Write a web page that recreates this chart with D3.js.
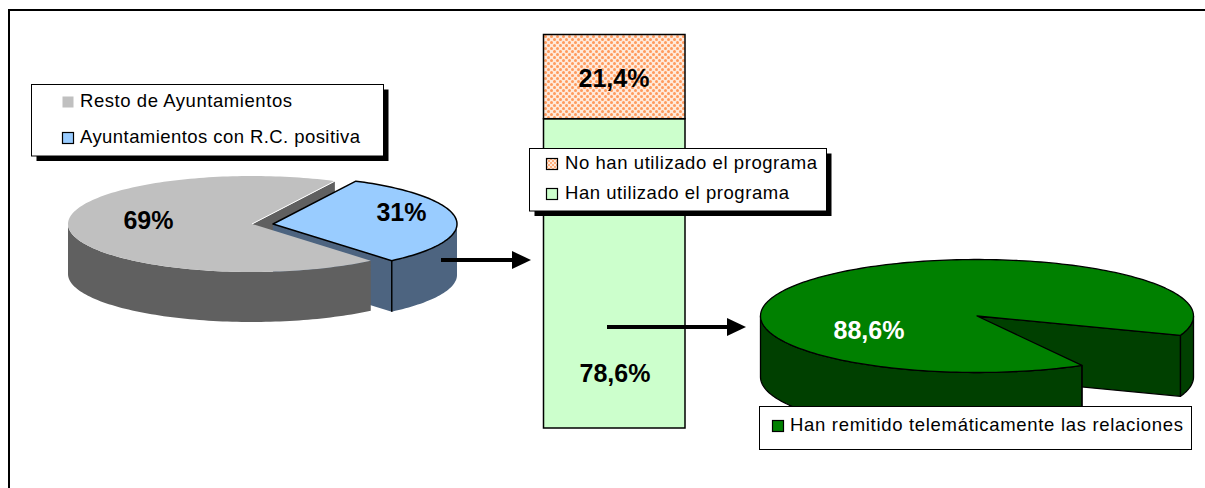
<!DOCTYPE html>
<html>
<head>
<meta charset="utf-8">
<script src="https://cdn.jsdelivr.net/npm/d3@7"></script>
<style>
html,body{margin:0;padding:0;background:#fff;overflow:hidden}
svg{display:block}
text{font-family:"Liberation Sans",Arial,sans-serif}
</style>
</head>
<body>
<svg id="c" width="1205" height="488"></svg>
<script>
// ---- data ----
const pieAValues = [68.6, 31.4];
const pieALabels = ["69%", "31%"];
const pieALegend = ["Resto de Ayuntamientos", "Ayuntamientos con R.C. positiva"];
const barValues = [78.6, 21.4];
const barLabels = ["78,6%", "21,4%"];
const barLegend = ["No han utilizado el programa", "Han utilizado el programa"];
const pieBValues = [88.6, 11.4];
const pieBLabel = "88,6%";
const pieBLegend = "Han remitido telemáticamente las relaciones";

// ---- styles ----
const cGray = "#c0c0c0", cGrayWall = "#606060";
const cBlue = "#99ccff", cBlueWall = "#4d6480";
const cGreenBar = "#ccffcc";
const cGreen = "#008000", cGreenWall = "#004000";

const svg = d3.select("#c");
const rad = d => d * Math.PI / 180;

// frame
svg.append("path").attr("d", "M9,488V10H1205").attr("fill", "none").attr("stroke", "#000").attr("stroke-width", 2);

// patterns
const defs = svg.append("defs");
function dotPattern(id, size, r, x, y) {
  const pat = defs.append("pattern").attr("id", id).attr("patternUnits", "userSpaceOnUse")
    .attr("width", size).attr("height", size).attr("x", x).attr("y", y);
  pat.append("rect").attr("width", size).attr("height", size).attr("fill", "#ffeadb");
  [[size / 4, size / 4], [size * 3 / 4, size * 3 / 4]].forEach(p =>
    pat.append("circle").attr("cx", p[0]).attr("cy", p[1]).attr("r", r).attr("fill", "#ff9a5c"));
}
dotPattern("dots", 6, 1.5, 544, 35);
dotPattern("dotsS", 4, 1, 546, 158);

// 3D pie helpers: angles come from d3.pie, projected on an ellipse
function project(g, a) {
  return [g.cx + g.rx * Math.sin(a), g.cy - g.ry * Math.cos(a)];
}
const lineGen = d3.line();
function arcPts(g, a0, a1) {
  const n = Math.max(2, Math.ceil(Math.abs(a1 - a0) / rad(1.5)));
  return d3.range(n + 1).map(i => project(g, a0 + (a1 - a0) * i / n));
}
function topPath(g, a0, a1) {
  return lineGen([[g.cx, g.cy], ...arcPts(g, a0, a1)]) + "Z";
}
function outerWall(g, a0, a1) {
  // only the front part of the rim is visible
  const pieces = [];
  [[rad(90), rad(270)], [rad(450), rad(630)]].forEach(v => {
    const s = Math.max(a0, v[0]), e = Math.min(a1, v[1]);
    if (s < e) {
      const up = arcPts(g, s, e);
      const down = up.map(p => [p[0], p[1] + g.depth]).reverse();
      pieces.push(lineGen([...up, ...down]) + "Z");
    }
  });
  return pieces.join("");
}
function innerWall(g, a) {
  const p = project(g, a);
  return lineGen([[g.cx, g.cy], p, [p[0], p[1] + g.depth], [g.cx, g.cy + g.depth]]) + "Z";
}

// ---- pie A ----
const gA = { cx: 252, cy: 224, rx: 184, ry: 48, depth: 50 };
const gB = { cx: 273, cy: 224, rx: 184, ry: 48, depth: 51 };
const startA = rad(139.8);
const arcsA = d3.pie().sort(null).startAngle(startA).endAngle(startA + 2 * Math.PI)(pieAValues);
const gr = arcsA[0], bl = arcsA[1];
const blS = bl.startAngle - 2 * Math.PI, blE = bl.endAngle - 2 * Math.PI;
const pieA = svg.append("g");
pieA.append("path").attr("d", innerWall(gA, gr.endAngle)).attr("fill", cGrayWall);
pieA.append("path").attr("d", innerWall(gB, blE)).attr("fill", cBlueWall);
pieA.append("path").attr("d", outerWall(gA, gr.startAngle, gr.endAngle)).attr("fill", cGrayWall);
pieA.append("path").attr("d", topPath(gA, gr.startAngle, gr.endAngle)).attr("fill", cGray);
{
  const p = project(gA, gr.endAngle);
  pieA.append("path").attr("d", lineGen([[gA.cx, gA.cy], p])).attr("stroke", "#fff").attr("stroke-width", 1);
}
pieA.append("path").attr("d", outerWall(gB, blS, blE)).attr("fill", cBlueWall);
{
  const p = project(gB, blE);
  pieA.append("path").attr("d", lineGen([p, [p[0], p[1] + gB.depth]])).attr("stroke", "#000").attr("stroke-width", 1.5);
}
pieA.append("path").attr("d", topPath(gB, blS, blE)).attr("fill", cBlue).attr("stroke", "#000").attr("stroke-width", 1.5).attr("stroke-linejoin", "round");

// ---- stacked bar ----
const yBar = d3.scaleLinear().domain([0, 100]).range([428, 34.5]);
const barX = d3.scaleBand().domain(["bar"]).range([543.5, 685]);
const stack = d3.stack().keys([0, 1])([barValues]);
const barFill = [cGreenBar, "url(#dots)"];
svg.append("g").selectAll("rect").data(stack).join("rect")
  .attr("x", barX("bar")).attr("width", barX.bandwidth())
  .attr("y", d => yBar(d[0][1])).attr("height", d => yBar(d[0][0]) - yBar(d[0][1]))
  .attr("fill", (d, i) => barFill[i]).attr("stroke", "#000").attr("stroke-width", 1.5);

// ---- arrows ----
function arrow(x0, x1, y) {
  const g = svg.append("g");
  g.append("line").attr("x1", x0).attr("x2", x1 - 18).attr("y1", y).attr("y2", y).attr("stroke", "#000").attr("stroke-width", 4);
  g.append("path").attr("d", lineGen([[x1 - 19, y - 9], [x1, y], [x1 - 19, y + 9]]) + "Z").attr("fill", "#000");
}
arrow(441, 531, 260);
arrow(607, 746, 327);

// ---- pie B ----
const gC = { cx: 977, cy: 316, rx: 216.5, ry: 56.5, depth: 61 };
const startB = rad(151);
const arcsB = d3.pie().sort(null).startAngle(startB).endAngle(startB + 2 * Math.PI)(pieBValues);
const gs = arcsB[0];
const pieB = svg.append("g").attr("stroke", "#000").attr("stroke-width", 1.3).attr("stroke-linejoin", "round");
pieB.append("path").attr("d", innerWall(gC, gs.endAngle)).attr("fill", cGreenWall);
pieB.append("path").attr("d", outerWall(gC, gs.startAngle, gs.endAngle)).attr("fill", cGreenWall);
{
  const p = project(gC, gs.startAngle);
  pieB.append("path").attr("d", lineGen([p, [p[0], p[1] + gC.depth]]));
}
pieB.append("path").attr("d", topPath(gC, gs.startAngle, gs.endAngle)).attr("fill", cGreen);

// ---- legends ----
function box(x, y, w, h, shadow) {
  if (shadow) svg.append("rect").attr("x", x + shadow).attr("y", y + shadow).attr("width", w).attr("height", h).attr("fill", "#000");
  svg.append("rect").attr("x", x).attr("y", y).attr("width", w).attr("height", h).attr("fill", "#fff").attr("stroke", "#000").attr("stroke-width", 1);
}
function legendItem(sx, sy, tx, ty, label, fill, stroke, tw) {
  svg.append("rect").attr("x", sx).attr("y", sy).attr("width", 11).attr("height", 11).attr("fill", fill)
    .attr("stroke", stroke || "none").attr("stroke-width", 1.2);
  svg.append("text").attr("x", tx).attr("y", ty).attr("font-size", 18.5).attr("fill", "#000")
    .attr("textLength", tw).attr("lengthAdjust", "spacing").text(label);
}
box(31.5, 84.5, 352, 71.5, 5);
legendItem(62.5, 96.5, 80, 107, pieALegend[0], cGray, null, 212);
legendItem(62.5, 132.5, 80, 143, pieALegend[1], cBlue, "#000", 280);
box(529.5, 148.5, 297, 62.5, 5);
legendItem(546.5, 158.5, 565, 169, barLegend[0], "url(#dotsS)", "#000", 252);
legendItem(546.5, 188.5, 565, 199, barLegend[1], cGreenBar, "#000", 224);
box(759.5, 406.5, 432, 43, 0);
legendItem(772.5, 420.5, 790, 431, pieBLegend, cGreen, "#000", 393);

// ---- value labels ----
function label(x, y, t, fill) {
  svg.append("text").attr("x", x).attr("y", y).attr("text-anchor", "middle").attr("font-size", 25)
    .attr("font-weight", "bold").attr("fill", fill || "#000").text(t);
}
label(148.5, 229, pieALabels[0]);
label(401.5, 221, pieALabels[1]);
label(614, 87, barLabels[1]);
label(615, 382, barLabels[0]);
label(869, 339, pieBLabel, "#fff");
</script>
</body>
</html>
